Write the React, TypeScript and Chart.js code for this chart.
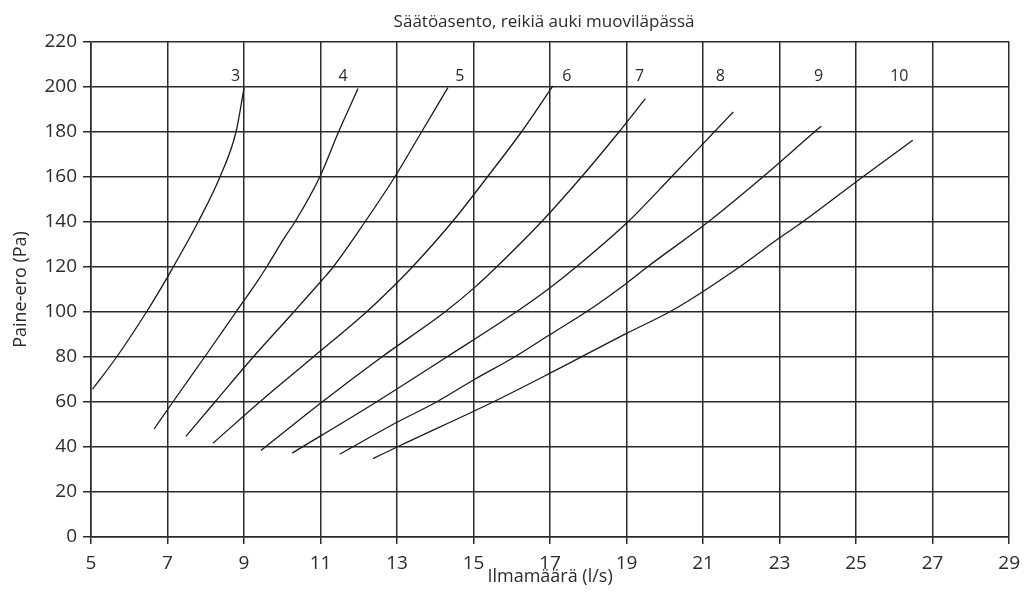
import React, { useEffect, useRef } from "react";
import { Chart, registerables } from "chart.js";

Chart.register(...registerables);

const TITLE = "Säätöasento, reikiä auki muoviläpässä";
const X_TITLE = "Ilmamäärä (l/s)";
const Y_TITLE = "Paine-ero (Pa)";

const X_MIN = 5;
const X_MAX = 29;
const X_STEP = 2;
const Y_MIN = 0;
const Y_MAX = 220;
const Y_STEP = 20;

// Säätöasento (curve labels)
const positions = ["3", "4", "5", "6", "7", "8", "9", "10"];

// Curve data: [Ilmamäärä l/s, Paine-ero Pa]
const curve3: [number, number][] = [
  [5.04, 65.7], [5.67, 80], [6.45, 100], [7.0, 115.5], [7.15, 120],
  [7.8, 140], [8.37, 160], [8.79, 180], [9.0, 199.5],
];
const curve4: [number, number][] = [
  [6.65, 48], [7.14, 60], [7.97, 80], [8.79, 100], [9.37, 114.2], [9.59, 120],
  [10.07, 133.4], [10.33, 140], [10.98, 160], [11.47, 180], [11.98, 199.3],
];
const curve5: [number, number][] = [
  [7.48, 44.7], [8.24, 60], [9.24, 80], [10.3, 100], [11.04, 114.2], [11.33, 120],
  [12.16, 140], [12.94, 160], [13.64, 180], [14.33, 199.7],
];
const curve6: [number, number][] = [
  [8.19, 41.7], [9.41, 60], [10.81, 80], [12.2, 100], [13.0, 113], [13.4, 120],
  [14.44, 140], [15.36, 160], [16.25, 180], [17.07, 200.4],
];
const curve7: [number, number][] = [
  [9.44, 38.4], [11.04, 60], [12.6, 80], [14.25, 100], [15.0, 110.5], [15.6, 120],
  [16.77, 140], [17.82, 160], [18.8, 180], [19.49, 194.8],
];
const curve8: [number, number][] = [
  [10.26, 37.3], [12.46, 60], [14.3, 80], [16.11, 100], [17.0, 110.8], [17.68, 120],
  [19.03, 140], [20.17, 160], [21.29, 180], [21.79, 188.9],
];
const curve9: [number, number][] = [
  [11.5, 36.8], [13.0, 51], [14.03, 60], [15.0, 69.8], [16.07, 80], [17.0, 90],
  [18.03, 101], [19.0, 112.8], [19.54, 120], [21.13, 140], [22.56, 160],
  [23.91, 180], [24.09, 182.6],
];
const curve10: [number, number][] = [
  [12.37, 34.8], [13.0, 40], [15.51, 60], [17.0, 72.8], [19.0, 90.5], [20.12, 100],
  [20.64, 105.2], [21.95, 120], [23.0, 133], [23.6, 140], [25.17, 160], [26.48, 176.3],
];

const curves = [curve3, curve4, curve5, curve6, curve7, curve8, curve9, curve10];

// Curve label anchor (data coordinates)
const labelX = [8.78, 11.59, 14.64, 17.44, 19.34, 21.45, 24.02, 26.13];
const labelY = 204.5;

const FONT = "'Open Sans', 'Noto Sans', sans-serif";
const TEXT = "#2b2b2b";
const GRID = "#2a2a2a";

const textPlugin = {
  id: "curveTexts",
  afterDraw(chart: any) {
    const { ctx, chartArea, scales } = chart;
    ctx.save();
    ctx.fillStyle = TEXT;
    ctx.textAlign = "center";
    ctx.textBaseline = "middle";
    ctx.font = `17px ${FONT}`;
    ctx.fillText(TITLE, (chartArea.left + chartArea.right) / 2 - 6, 22);
    ctx.font = `16px ${FONT}`;
    positions.forEach((p, i) => {
      ctx.fillText(p, scales.x.getPixelForValue(labelX[i]), scales.y.getPixelForValue(labelY));
    });
    ctx.restore();
  },
};

export default function App() {
  const ref = useRef<HTMLCanvasElement>(null);
  useEffect(() => {
    const chart = new Chart(ref.current!, {
      type: "line",
      data: {
        datasets: curves.map((c, i) => ({
          label: positions[i],
          data: c.map(([x, y]) => ({ x, y })),
          borderColor: "#1a1a1a",
          borderWidth: 1.3,
          pointRadius: 0,
          fill: false,
          cubicInterpolationMode: "monotone" as const,
        })),
      },
      options: {
        responsive: false,
        devicePixelRatio: 1,
        animation: false,
        layout: { padding: { top: 42, right: 18, left: 0, bottom: 0 } },
        plugins: {
          legend: { display: false },
          tooltip: { enabled: false },
          title: { display: false },
        },
        scales: {
          x: {
            type: "linear",
            min: X_MIN,
            max: X_MAX,
            afterFit: (s: any) => { s.height = 60; },
            ticks: {
              stepSize: X_STEP,
              color: TEXT,
              font: { family: FONT, size: 19 },
              padding: 8,
              maxRotation: 0,
            },
            grid: { color: GRID, lineWidth: 1.5, tickLength: 7 },
            border: { color: GRID, width: 1.5 },
            title: {
              display: true,
              text: X_TITLE,
              color: TEXT,
              font: { family: FONT, size: 18 },
              padding: { top: 0, bottom: 9 },
            },
          },
          y: {
            type: "linear",
            min: Y_MIN,
            max: Y_MAX,
            afterFit: (s: any) => { s.width = 91; },
            ticks: {
              stepSize: Y_STEP,
              color: TEXT,
              font: { family: FONT, size: 19 },
              padding: 6,
            },
            grid: { color: GRID, lineWidth: 1.5, tickLength: 8 },
            border: { color: GRID, width: 1.5 },
            title: {
              display: true,
              text: Y_TITLE,
              color: TEXT,
              font: { family: FONT, size: 18 },
              padding: { top: 10, bottom: 0 },
            },
          },
        },
      },
      plugins: [textPlugin],
    });
    return () => chart.destroy();
  }, []);
  return (
    <div style={{ position: "absolute", left: 0, top: 0, width: 1028, height: 597, background: "#fff" }}>
      <canvas ref={ref} width={1028} height={597} style={{ display: "block" }} />
    </div>
  );
}
